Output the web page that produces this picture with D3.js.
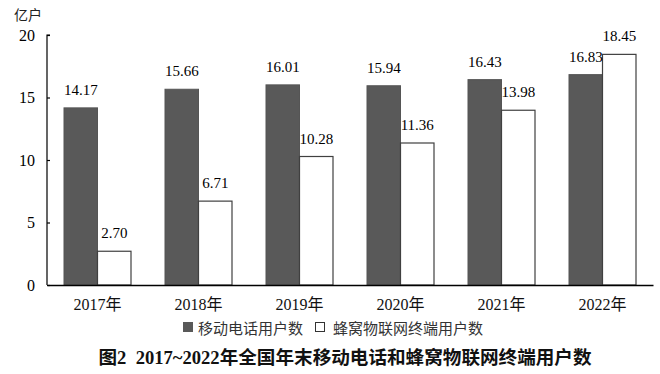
<!DOCTYPE html>
<html>
<head>
<meta charset="utf-8">
<script src="https://cdn.jsdelivr.net/npm/d3@7"></script>
<style>
  body { margin: 0; background: #fff; }
  text { font-family: "Liberation Serif", "Noto Sans CJK SC", serif; }
</style>
</head>
<body>
<div id="chart"></div>
<script>
const years = ["2017年", "2018年", "2019年", "2020年", "2021年", "2022年"];
const mobileUsers = [14.17, 15.66, 16.01, 15.94, 16.43, 16.83];
const iotUsers = [2.70, 6.71, 10.28, 11.36, 13.98, 18.45];
const seriesNames = ["移动电话用户数", "蜂窝物联网终端用户数"];
const yTicks = [0, 5, 10, 15, 20];

const svg = d3.select("#chart").append("svg")
    .attr("width", 660)
    .attr("height", 374);

const x = d3.scaleBand()
    .domain(years)
    .range([47, 653]);

const y = d3.scaleLinear()
    .domain([0, 20])
    .range([285, 35]);

const barW = 33.5;

// y axis
const yAxis = svg.append("g")
    .attr("transform", "translate(47,0)")
    .call(d3.axisRight(y).tickValues(yTicks).tickSize(3).tickFormat(d3.format("d")));
yAxis.select(".domain").attr("d", "M3,35H0V285");
yAxis.selectAll("text")
    .attr("x", -12)
    .attr("text-anchor", "end")
    .style("font-size", "16px")
    .style("font-family", "Liberation Serif");
yAxis.selectAll("line, path").attr("stroke", "#000").attr("stroke-width", 1.2);

svg.append("text")
    .attr("x", 14).attr("y", 20)
    .style("font-size", "14px")
    .style("font-family", "Noto Sans CJK SC")
    .attr("fill", "#222")
    .text("亿户");

// bars
const groups = svg.selectAll(".grp")
    .data(years)
    .enter().append("g");

groups.append("rect")
    .attr("x", d => x(d) + x.bandwidth() / 2 - barW)
    .attr("y", (d, i) => y(mobileUsers[i]))
    .attr("width", barW)
    .attr("height", (d, i) => y(0) - y(mobileUsers[i]))
    .attr("fill", "#595959")
    .attr("stroke", "#555");

groups.append("rect")
    .attr("x", d => x(d) + x.bandwidth() / 2)
    .attr("y", (d, i) => y(iotUsers[i]))
    .attr("width", barW)
    .attr("height", (d, i) => y(0) - y(iotUsers[i]))
    .attr("fill", "#fff")
    .attr("stroke", "#404040")
    .attr("stroke-width", 1.2);

groups.append("text")
    .attr("x", d => x(d) + x.bandwidth() / 2 - barW / 2)
    .attr("y", (d, i) => y(mobileUsers[i]) - 13)
    .attr("text-anchor", "middle")
    .style("font-size", "15px")
    .text((d, i) => mobileUsers[i].toFixed(2));

groups.append("text")
    .attr("x", d => x(d) + x.bandwidth() / 2 + barW / 2)
    .attr("y", (d, i) => y(iotUsers[i]) - 13)
    .attr("text-anchor", "middle")
    .style("font-size", "15px")
    .text((d, i) => iotUsers[i].toFixed(2));

// x axis
const xAxis = svg.append("g")
    .attr("transform", "translate(0,285)")
    .call(d3.axisBottom(x).tickSize(0).tickPadding(14));
xAxis.select(".domain").attr("stroke", "#000").attr("stroke-width", 1.5);
xAxis.selectAll("text")
    .style("font-size", "16px")
    .style("font-family", "\"Liberation Serif\", \"Noto Sans CJK SC\"")
    .attr("fill", "#111");

// legend
const legend = svg.append("g").attr("transform", "translate(183,322)");
legend.append("rect")
    .attr("x", 0).attr("y", 0).attr("width", 10).attr("height", 10)
    .attr("fill", "#595959");
legend.append("text")
    .attr("x", 15).attr("y", 12)
    .style("font-size", "15px")
    .style("font-family", "Noto Sans CJK SC")
    .attr("fill", "#333")
    .text(seriesNames[0]);
legend.append("rect")
    .attr("x", 132.5).attr("y", 0.5).attr("width", 9).attr("height", 9)
    .attr("fill", "#fff").attr("stroke", "#333");
legend.append("text")
    .attr("x", 150).attr("y", 12)
    .style("font-size", "15px")
    .style("font-family", "Noto Sans CJK SC")
    .attr("fill", "#333")
    .text(seriesNames[1]);

// title
svg.append("text")
    .attr("x", 345).attr("y", 364)
    .attr("text-anchor", "middle")
    .style("font-size", "18.6px")
    .style("font-weight", "bold")
    .style("white-space", "pre")
    .attr("fill", "#111")
    .text("图2  2017~2022年全国年末移动电话和蜂窝物联网终端用户数");
</script>
</body>
</html>
